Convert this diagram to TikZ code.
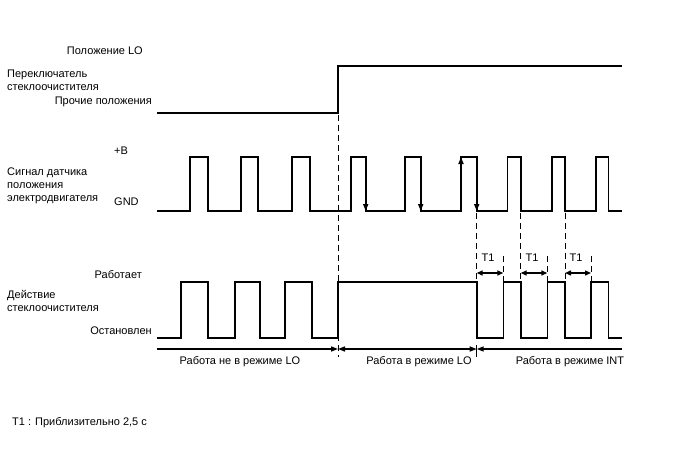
\documentclass[tikz,border=0pt]{standalone}
\usepackage{fontspec}
\setmainfont{Liberation Sans}
\usetikzlibrary{arrows.meta}
\tikzset{
  sig/.style={line width=1.6pt, line join=miter},
  guide/.style={line width=0.8pt, dash pattern=on 6pt off 4pt},
  mark tip/.style={line width=1.6pt, -{Triangle[length=7pt,width=5pt]}},
  span/.style={line width=1.4pt},
  lbl/.style={font=\fontsize{11}{12.8}\selectfont, inner sep=0pt},
}
\begin{document}
\begin{tikzpicture}[x=1pt, y=-1pt]
    \useasboundingbox (0,0) rectangle (688,463);
    % labels on the left
    \node[lbl, anchor=east] (lopos) at (143,51) {Положение LO};
    \node[lbl, anchor=west, align=left] (switch) at (7,80) {Переключатель\\стеклоочистителя};
    \node[lbl, anchor=east] (other) at (152,102) {Прочие положения};
    \node[lbl, anchor=west] (plusb) at (114,151) {+B};
    \node[lbl, anchor=west] (gnd) at (114,202) {GND};
    \node[lbl, anchor=west, align=left] (sensor) at (7,186) {Сигнал датчика\\положения\\электродвигателя};
    \node[lbl, anchor=east] (works) at (142,275) {Работает};
    \node[lbl, anchor=west, align=left] (wiper) at (7,301) {Действие\\стеклоочистителя};
    \node[lbl, anchor=east] (stopped) at (152,331) {Остановлен};
    \node[lbl, anchor=west] (note) at (12,423) {T1 : Приблизительно 2,5 с};

    % wiper switch
    \draw[sig] (157,113) -- (338,113) -- (338,66) -- (622,66);

    % motor position sensor
    \draw[sig] (157,211)
        foreach \a/\b in {190/207.7, 240.7/258, 292/310, 350.7/365.7, 405/420.7,
                          461/476.7, 507.3/520.7, 551.7/565, 595.7/608.3}
        { -- (\a,211) -- (\a,157) -- (\b,157) -- (\b,211) }
        -- (622,211);
    \foreach \x in {365.7, 420.7, 476.7}
        \draw[mark tip] (\x,190) -- (\x,211);
    \draw[mark tip] (461,180) -- (461,157);

    % wiper operation
    \draw[sig] (157,338)
        foreach \a/\b in {181/207.7, 235/260, 285/311.7}
        { -- (\a,338) -- (\a,282) -- (\b,282) -- (\b,338) }
        -- (338,338) -- (338,282) -- (476.7,282) -- (476.7,338)
        foreach \a/\b in {503.3/520.7, 547.3/565, 591/608.3}
        { -- (\a,338) -- (\a,282) -- (\b,282) -- (\b,338) }
        -- (622,338);

    % guide lines
    \draw[guide] (338,115) -- (338,357);
    \foreach \x in {476.7, 520.7, 565}
        \draw[guide] (\x,213) -- (\x,282);
    \foreach \x in {503.3, 547.3, 591}
        \draw[guide] (\x,256) -- (\x,282);

    % T1 intervals
    \foreach \a/\b/\n in {476.7/503.3/ta, 520.7/547.3/tb, 565/591/tc} {
        \coordinate (\n s) at (\a,273);
        \coordinate (\n e) at (\b,273);
        \draw[span, {Triangle[length=6pt,width=5pt]}-{Triangle[length=6pt,width=5pt]}] (\n s) -- (\n e);
        \node[lbl] (\n) at ({(\a+\b)/2-2},258) {T1};
    }

    % operating modes
    \coordinate (start) at (157,349);
    \coordinate (lo) at (338,349);
    \coordinate (int) at (476.7,349);
    \coordinate (stop) at (622,349);
    \draw[span, -{Triangle[length=7pt,width=5pt]}] (start) -- (lo);
    \draw[span, {Triangle[length=7pt,width=5pt]}-{Triangle[length=7pt,width=5pt]}] (lo) -- (int);
    \draw[span, {Triangle[length=7pt,width=5pt]}-] (int) -- (stop);
    \draw[line width=0.8pt] (476.7,345) -- (476.7,357);
    \node[lbl] (notlo) at (240,362) {Работа не в режиме LO};
    \node[lbl] (inlo) at (419,362) {Работа в режиме LO};
    \node[lbl] (inint) at (570,362) {Работа в режиме INT};
\end{tikzpicture}
\end{document}
